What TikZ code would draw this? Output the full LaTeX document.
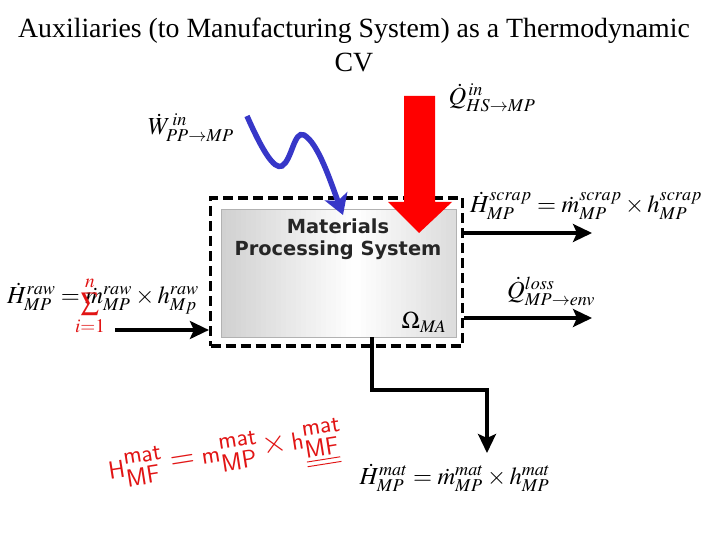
\documentclass[tikz,border=0pt]{standalone}
\usepackage{mathptmx}
\usepackage{fontspec}
\setmainfont{Liberation Serif}
\newfontfamily\boxfont{DejaVu Sans}
\newfontfamily\handfont{Fira Sans}
\usetikzlibrary{arrows.meta}
\definecolor{wavblue}{RGB}{55,55,200}
\definecolor{hotred}{RGB}{255,0,0}
\definecolor{inkred}{RGB}{225,20,20}
\tikzset{
    flow/.style={line width=3.2pt, -{Stealth[length=19pt, width=18pt, inset=4pt]}},
    eqlabel/.style={font=\fontsize{24.5}{28}\selectfont, inner sep=0pt},
    ink/.style={inkred, font=\handfont\fontsize{32}{34}\selectfont, inner sep=0pt}
}
\begin{document}
\begin{tikzpicture}[>=stealth, x=1pt, y=-1pt]
        \useasboundingbox (0, 0) rectangle (720, 540);

        \node[font=\fontsize{27.8}{34}\selectfont, align=center] (title) at (354, 45) {Auxiliaries (to Manufacturing System) as a Thermodynamic \\ CV};

        \foreach \stripx in {221, 226, ..., 451} {
            \pgfmathsetmacro\stripshade{33*abs(\stripx + 2.5 - 355)/120}
            \fill[gray!\stripshade] (\stripx, 209) rectangle (\stripx + 5.6, 337);
        }
        \node[draw=gray!60, line width=0.8pt, minimum width=235, minimum height=128] (mps) at (338.5, 273) {};
        \node[draw, line width=3.2pt, dash pattern=on 10pt off 5pt, minimum width=252, minimum height=148] (cv) at (336.5, 272) {};
        \node[font=\boxfont\bfseries\fontsize{19.4}{22}\selectfont, align=center, text=black!85] (mpsname) at (338, 239) {Materials \\ Processing System};
        \node[font=\fontsize{24}{26}\selectfont] (omega) at (424, 322) {$\Omega_{\mathit{MA}}$};

        \fill[hotred] (404, 96) -- (435, 96) -- (435, 202) -- (452, 202) -- (419, 233) -- (388, 202) -- (404, 202) -- cycle;

        \coordinate (wavestart) at (247, 116);
        \coordinate (wavetip) at (343, 215);
        \draw[wavblue, line width=5.5pt, -{Stealth[length=20pt, width=24pt, inset=5pt]}] (wavestart)
            .. controls (262, 150) and (274, 170) .. (282, 166)
            .. controls (292, 160) and (294, 130) .. (304, 135)
            .. controls (318, 143) and (330, 180) .. (wavetip);

        \coordinate (scrapend) at (592, 233);
        \coordinate (lossend) at (592, 318);
        \coordinate (rawstart) at (115, 330);
        \coordinate (matdrop) at (372, 390);
        \coordinate (matend) at (487, 453);
        \draw[flow] (cv.east |- scrapend) -- (scrapend);
        \draw[flow] (cv.east |- lossend) -- (lossend);
        \draw[flow] (rawstart) -- (cv.west |- rawstart);
        \draw[flow] (mps.south -| matdrop) -- (matdrop) -| (matend);

        \node[eqlabel] (win) at (191, 128) {$\dot{W}^{\,in}_{PP\to MP}$};
        \node[eqlabel] (qin) at (492, 98) {$\dot{Q}^{\,in}_{HS\to MP}$};
        \node[eqlabel] (hscrap) at (586, 206) {$\dot{H}^{scrap}_{MP} = \dot{m}^{scrap}_{MP} \times h^{scrap}_{MP}$};
        \node[eqlabel] (qloss) at (551, 291) {$\dot{Q}^{loss}_{MP\to env}$};
        \node[eqlabel] (hraw) at (103, 299) {$\dot{H}^{raw}_{MP} = \dot{m}^{raw}_{MP} \times h^{raw}_{Mp}$};
        \node[eqlabel] (hmat) at (455, 478) {$\dot{H}^{mat}_{MP} = \dot{m}^{mat}_{MP} \times h^{mat}_{MP}$};

        \node[ink, font=\fontsize{26}{28}\selectfont] (sumnote) at (90, 306) {$\sum\limits_{i=1}^{n}$};
        \node[ink, rotate=9] (matnote) at (226, 458) {$\mathsf{H}^{\mathsf{mat}}_{\mathsf{MF}} = \mathsf{m}^{\mathsf{mat}}_{\mathsf{MP}} \times \mathsf{h}^{\mathsf{mat}}_{\underline{\underline{\mathsf{MF}}}}$};
    \end{tikzpicture}
\end{document}
